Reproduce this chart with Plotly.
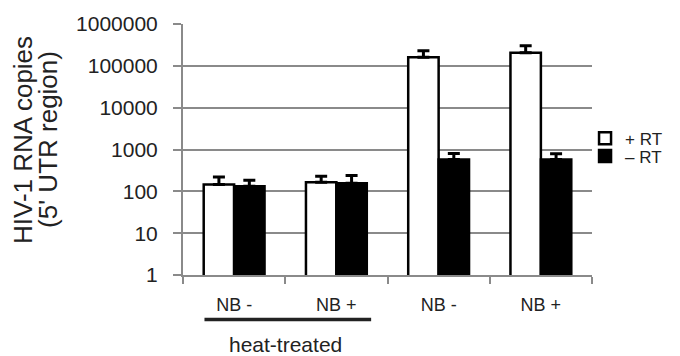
import plotly.graph_objects as go

categories = ["NB -", "NB +", "NB -", "NB +"]
plus_rt = [145, 166, 160000, 206000]
plus_rt_err_top = [220, 230, 230000, 300000]
minus_rt = [132, 156, 580, 580]
minus_rt_err_top = [183, 240, 800, 790]
y_tick_vals = [1, 10, 100, 1000, 10000, 100000, 1000000]
y_tick_text = ["1", "10", "100", "1000", "10000", "100000", "1000000"]
group_label = "heat-treated"
series_names = ["+ RT", "\u2013 RT"]

x_pos = list(range(len(categories)))
FONT = "Liberation Sans, Arial, sans-serif"
GRAY = "#8a8a8a"

fig = go.Figure()
fig.add_trace(go.Bar(
    x=x_pos, y=plus_rt, name=series_names[0], legend="legend",
    marker=dict(color="white", line=dict(color="black", width=2.5)),
    error_y=dict(type="data", symmetric=False,
                 array=[t - v for t, v in zip(plus_rt_err_top, plus_rt)],
                 arrayminus=[0] * len(plus_rt),
                 color="black", thickness=3, width=6),
))
fig.add_trace(go.Bar(
    x=x_pos, y=minus_rt, name=series_names[1], legend="legend2",
    marker=dict(color="black", line=dict(color="black", width=2.5)),
    error_y=dict(type="data", symmetric=False,
                 array=[t - v for t, v in zip(minus_rt_err_top, minus_rt)],
                 arrayminus=[0] * len(minus_rt),
                 color="black", thickness=3, width=6),
))

leg_common = dict(x=0.983, xanchor="left", yanchor="middle",
                  font=dict(size=17, color="#222"), bgcolor="rgba(0,0,0,0)")

fig.update_layout(
    width=680, height=356,
    margin=dict(l=183, r=87, t=21, b=81),
    paper_bgcolor="white", plot_bgcolor="white",
    barmode="group", bargap=0.405, bargroupgap=0,
    font=dict(family=FONT, color="#222"),
    showlegend=True,
    legend=dict(y=1 - (137 - 21) / 254, **leg_common),
    legend2=dict(y=1 - (155 - 21) / 254, **leg_common),
    xaxis=dict(range=[-0.5, 3.5], tickvals=x_pos, ticktext=categories,
               ticks="", showgrid=False, zeroline=False,
               showline=True, linecolor=GRAY, linewidth=2,
               tickfont=dict(size=18, color="#222"),
               ticklabelstandoff=12,
               minor=dict(tickvals=[-0.5, 0.5, 1.5, 2.5, 3.5], ticks="outside",
                          ticklen=7, tickwidth=2, tickcolor=GRAY, showgrid=False)),
    yaxis=dict(type="log", range=[0, 6], tickvals=y_tick_vals, ticktext=y_tick_text,
               showgrid=True, gridcolor=GRAY, gridwidth=2,
               showline=True, linecolor=GRAY, linewidth=2,
               ticks="outside", ticklen=8, tickwidth=2, tickcolor=GRAY,
               tickfont=dict(size=21, color="#222"), ticklabelstandoff=11),
)

# group bracket line and label
fig.add_shape(type="line", xref="x", yref="paper", x0=-0.29, x1=1.34, y0=-0.177, y1=-0.177,
              line=dict(color="#222", width=3.5))
fig.add_annotation(text=group_label, xref="x", yref="paper", x=0.5, y=-0.276,
                   showarrow=False, font=dict(size=21, color="#222"),
                   xanchor="center", yanchor="middle")

# y-axis title (two lines)
fig.add_annotation(text="HIV-1 RNA copies", xref="paper", yref="paper",
                   x=(22 - 183) / 410, y=(275 - 138) / 254, textangle=-90,
                   showarrow=False, font=dict(size=26, color="#222"),
                   xanchor="center", yanchor="middle")
fig.add_annotation(text="(5' UTR region)", xref="paper", yref="paper",
                   x=(47 - 183) / 410, y=(275 - 138) / 254, textangle=-90,
                   showarrow=False, font=dict(size=26, color="#222"),
                   xanchor="center", yanchor="middle")

fig.write_html("out.html", post_script="document.body.style.margin='0';",
               config={"displayModeBar": False})
